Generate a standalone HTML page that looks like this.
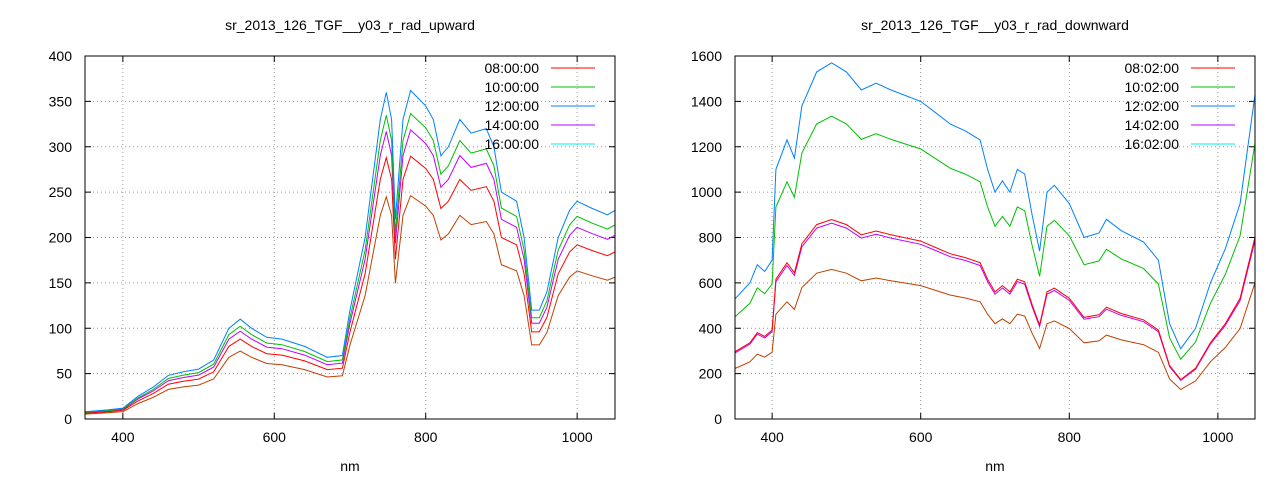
<!DOCTYPE html>
<html><head><meta charset="utf-8"><style>
body{margin:0;background:#fff;}
svg text{font-family:"Liberation Sans",sans-serif;font-size:14px;fill:#000;}
</style></head><body>
<svg id="s" width="1280" height="480" xmlns="http://www.w3.org/2000/svg"></svg>
<script>
const S=document.getElementById('s');let h='';
function plot(x0,x1,ymax,ystep,title,data,scales,cols,labels){
 const y0=419,yt=56;
 const X=n=>x0+(n-350)/700*(x1-x0), Y=v=>y0-v/ymax*(y0-yt);
 h+=`<text x="${(x0+x1)/2}" y="30" text-anchor="middle">${title}</text>`;
 h+=`<text x="${(x0+x1)/2}" y="471" text-anchor="middle">nm</text>`;
 for(let n=400;n<=1000;n+=200){const x=X(n);
  h+=`<line x1="${x}" y1="${yt}" x2="${x}" y2="${y0}" stroke="#999" stroke-dasharray="1,3"/>`;
  h+=`<line x1="${x}" y1="${y0}" x2="${x}" y2="${y0-6}" stroke="#000"/><line x1="${x}" y1="${yt}" x2="${x}" y2="${yt+6}" stroke="#000"/>`;
  h+=`<text x="${x}" y="442" text-anchor="middle">${n}</text>`;}
 for(let v=0;v<=ymax;v+=ystep){const y=Y(v);
  if(v>0&&v<ymax)h+=`<line x1="${x0}" y1="${y}" x2="${x1}" y2="${y}" stroke="#999" stroke-dasharray="1,3"/>`;
  h+=`<line x1="${x0}" y1="${y}" x2="${x0+6}" y2="${y}" stroke="#000"/><line x1="${x1}" y1="${y}" x2="${x1-6}" y2="${y}" stroke="#000"/>`;
  h+=`<text x="${x0-13}" y="${y+5}" text-anchor="end">${v}</text>`;}
 const order=[4,3,2,1,0];
 for(const i of order){let p='';for(const [n,v] of data)p+=(p?'L':'M')+X(n).toFixed(1)+','+Y(v*scales[i]).toFixed(1);
  h+=`<path d="${p}" fill="none" stroke="${cols[i]}" stroke-width="1"/>`;}
 const lc=['#ff0000','#00c000','#0080ff','#c000ff','#00eeee'];
 for(let i=0;i<5;i++){const y=68+i*19;
  h+=`<text x="${x1-76}" y="${y+5}" text-anchor="end">${labels[i]}</text>`;
  h+=`<line x1="${x1-64}" y1="${y}" x2="${x1-20}" y2="${y}" stroke="${lc[i]}"/>`;}
 h+=`<rect x="${x0}" y="${yt}" width="${x1-x0}" height="${y0-yt}" fill="none" stroke="#000"/>`;
}
const L=[[350,8],[380,10],[400,12],[420,25],[440,35],[460,48],[480,52],[500,55],[520,65],[540,100],[555,110],[570,100],[590,90],[610,88],[640,80],[670,68],[690,70],[700,120],[720,200],[740,330],[748,360],[755,330],[760,220],[770,330],[780,362],[800,345],[810,330],[820,290],[830,300],[845,330],[860,315],[880,320],[890,300],[900,250],[920,240],[930,200],[940,120],[950,120],[960,140],[975,200],[990,230],[1000,240],[1020,232],[1040,225],[1050,230]];
const R=[[350,530],[370,600],[380,680],[390,650],[400,700],[405,1100],[420,1230],[430,1150],[440,1380],[460,1530],[480,1570],[500,1530],[520,1450],[540,1480],[560,1450],[600,1400],[620,1350],[640,1300],[660,1270],[680,1230],[690,1100],[700,1000],[710,1050],[720,1000],[730,1100],[740,1080],[750,900],[760,740],[770,1000],[780,1030],[800,950],[820,800],[840,820],[850,880],[870,830],[900,780],[920,700],[935,420],[950,310],[970,400],[990,600],[1010,750],[1030,950],[1050,1430]];
plot(85,615,400,50,'sr_2013_126_TGF__y03_r_rad_upward',L,[1,0.93,0.8,0.88,0.68],['#0080ff','#00c000','#ff0000','#c000ff','#c04000'],['08:00:00','10:00:00','12:00:00','14:00:00','16:00:00']);
plot(735,1255,1600,200,'sr_2013_126_TGF__y03_r_rad_downward',R,[1,0.85,0.56,0.55,0.42],['#0080ff','#00c000','#ff0000','#c000ff','#c04000'],['08:02:00','10:02:00','12:02:00','14:02:00','16:02:00']);
S.innerHTML=h;
</script>
</body></html>
